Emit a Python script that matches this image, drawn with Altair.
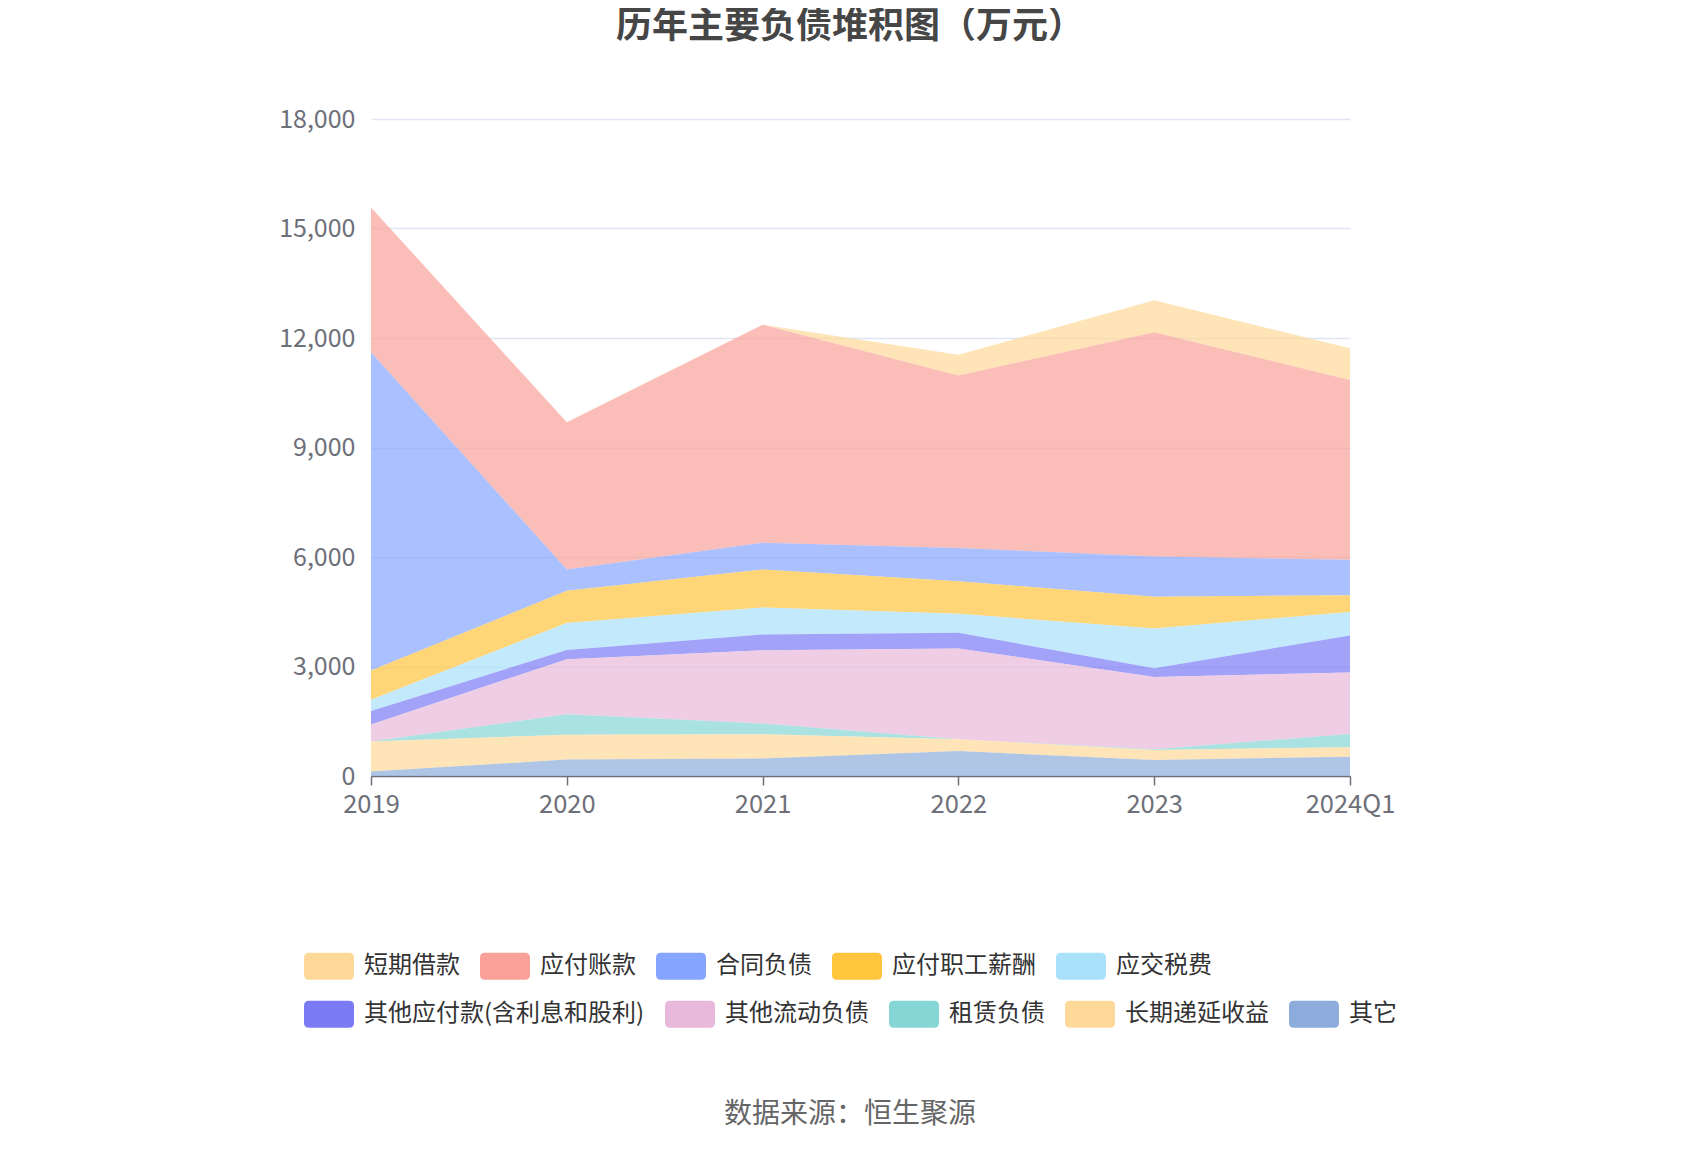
import altair as alt
import pandas as pd

# ---- data (万元) ----
years = ["2019", "2020", "2021", "2022", "2023", "2024Q1"]
series_names = ["短期借款", "应付账款", "合同负债", "应付职工薪酬", "应交税费",
                "其他应付款(含利息和股利)", "其他流动负债", "租赁负债", "长期递延收益", "其它"]

short_loans = [0, 0, 0, 566, 880, 868]
accounts_payable = [3968, 4030, 5977, 4726, 6140, 4926]
contract_liab = [8718, 585, 730, 913, 1105, 969]
payroll = [804, 885, 1040, 890, 870, 457]
taxes = [304, 740, 740, 520, 1085, 648]
other_payables = [370, 250, 430, 430, 240, 1015]
other_current = [467, 1510, 2010, 2490, 1985, 1681]
lease = [0, 560, 295, 0, 15, 366]
deferred = [826, 680, 665, 320, 280, 256]
others = [120, 450, 478, 684, 435, 530]

series_values = [short_loans, accounts_payable, contract_liab, payroll, taxes,
                 other_payables, other_current, lease, deferred, others]

colors = ["#FDD898", "#F9A199", "#86A5FF", "#FFC53D", "#A9E1FB",
          "#7A7AF5", "#E8B9DA", "#86D6D6", "#FFD99A", "#8CADDB"]

y_ticks = [0, 3000, 6000, 9000, 12000, 15000, 18000]
title_text = "历年主要负债堆积图（万元）"
source_text = "数据来源：恒生聚源"

rows = []
for i, (name, vals) in enumerate(zip(series_names, series_values)):
    for yr, v in zip(years, vals):
        rows.append({"year": yr, "series": name, "value": v,
                     "stack_order": len(series_names) - 1 - i})
df = pd.DataFrame(rows)

FONT = "Noto Sans CJK SC"
W, H = 979, 657

legend_symbol = ("M-0.8,-0.54L0.8,-0.54Q1,-0.54,1,-0.34L1,0.34Q1,0.54,0.8,0.54"
                 "L-0.8,0.54Q-1,0.54,-1,0.34L-1,-0.34Q-1,-0.54,-0.8,-0.54Z")

x_enc = alt.X("year:N", sort=years, scale=alt.Scale(type="point", padding=0),
              axis=alt.Axis(title=None, labelAngle=0, labelFontSize=25.5, labelFont=FONT,
                            labelColor="#6E7079", domainColor="#6E7079", domainWidth=1.5,
                            tickColor="#6E7079", tickSize=9, tickWidth=1.5,
                            labelPadding=7, grid=False))
y_enc = alt.Y("y1:Q", scale=alt.Scale(domain=[0, 18000], nice=False),
              axis=alt.Axis(title=None, values=y_ticks, format=",.0f", labelFontSize=25,
                            labelFont=FONT, labelColor="#6E7079", domain=False, ticks=False,
                            labelPadding=16, grid=True, gridColor="#E0E6F1", gridWidth=1.5))

base = alt.Chart(df).transform_stack(
    stack="value", groupby=["year"], as_=["y0", "y1"],
    sort=[alt.SortField("stack_order", order="ascending")], offset="zero")


def area_layer(names, cols, legend_y):
    return base.transform_filter(
        alt.FieldOneOfPredicate(field="series", oneOf=names)
    ).mark_area(opacity=0.7, interpolate="linear").encode(
        x=x_enc,
        y=y_enc,
        y2="y0:Q",
        color=alt.Color("series:N", sort=names,
                        scale=alt.Scale(domain=names, range=cols),
                        legend=alt.Legend(orient="none", legendX=-67, legendY=legend_y,
                                          direction="horizontal", columnPadding=20,
                                          labelOffset=10, symbolType=legend_symbol,
                                          symbolSize=2500, symbolOpacity=1,
                                          symbolStrokeWidth=0, labelFontSize=24,
                                          labelFont=FONT, labelColor="#333333",
                                          labelLimit=600, title=None)),
    )


row1 = area_layer(series_names[:5], colors[:5], 822)
row2 = area_layer(series_names[5:], colors[5:], 870)

title_mark = alt.Chart(pd.DataFrame({"t": [title_text]})).mark_text(
    font=FONT, fontSize=36, fontWeight="bold", color="#464646",
    align="center", baseline="middle"
).encode(x=alt.value(479), y=alt.value(-92), text="t:N")

source_mark = alt.Chart(pd.DataFrame({"t": [source_text]})).mark_text(
    font=FONT, fontSize=28, color="#666666", align="center", baseline="middle"
).encode(x=alt.value(479), y=alt.value(996), text="t:N")

chart = alt.layer(row1, row2, title_mark, source_mark).resolve_scale(
    color="independent"
).properties(
    width=W, height=H,
    autosize=alt.AutoSizeParams(type="none"),
    padding={"left": 363, "top": 111, "right": 342, "bottom": 366},
    background="white",
).configure_view(stroke=None)

chart.save("out.html", embed_options={"renderer": "svg", "actions": False})
